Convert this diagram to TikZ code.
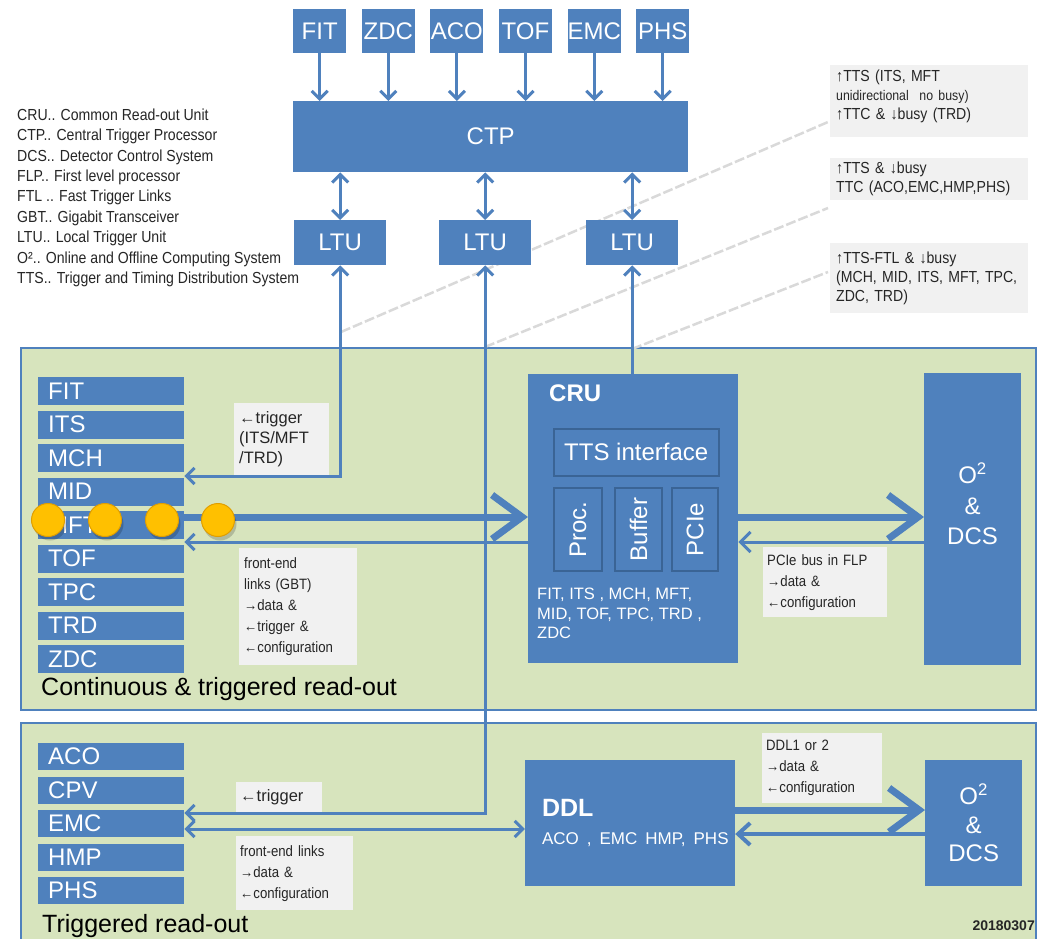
\documentclass[tikz,border=0pt]{standalone}
\usepackage{fontspec}
\setmainfont{Liberation Sans}
\newfontfamily\narrowf[FakeStretch=0.88]{Liberation Sans}
\usetikzlibrary{arrows.meta,calc}
\definecolor{bblue}{HTML}{4F81BD}
\definecolor{dblue}{HTML}{3A6495}
\definecolor{gfill}{HTML}{D7E4BD}
\definecolor{lgray}{HTML}{F1F1F1}
\definecolor{ybal}{HTML}{FFC000}
\definecolor{yrim}{HTML}{E09E00}
\definecolor{txt}{HTML}{262626}
\tikzset{
  blk/.style={fill=bblue, text=white, inner sep=0pt, anchor=north west,
    font=\fontsize{24}{28}\selectfont},
  det/.style={blk, minimum width=146pt, text width=126pt, inner xsep=10pt,
    inner ysep=0pt, align=left},
  inbox/.style={fill=bblue, draw=dblue, line width=1.5pt, text=white, inner sep=0pt,
    font=\fontsize{24}{28}\selectfont},
  callout/.style={fill=lgray, text=txt, anchor=north west, inner ysep=0pt, align=left},
  conn/.style={draw=bblue, line width=3pt},
  thk/.style={draw=bblue, line width=7pt, -{Straight Barb[length=30pt,width=44pt]}},
  faint/.style={draw=gray!30, line width=2.5pt, dash pattern=on 10pt off 3pt},
  ball/.style={fill=ybal, draw=yrim, line width=1pt},
}
\begin{document}
\begin{tikzpicture}[x=1pt,y=-1pt]
\useasboundingbox (0,0) rectangle (1041,939);
\fill[white] (0,0) rectangle (1041,939);

% legend
\node[anchor=north west, inner sep=0pt, align=left, text=txt,
  font=\narrowf\fontsize{16}{20.4}\selectfont] (legend) at (17,108.5)
  {CRU.. Common Read-out Unit\\
   CTP.. Central Trigger Processor\\
   DCS.. Detector Control System\\
   FLP.. First level processor\\
   FTL .. Fast Trigger Links\\
   GBT.. Gigabit Transceiver\\
   LTU.. Local Trigger Unit\\
   O².. Online and Offline Computing System\\
   TTS.. Trigger and Timing Distribution System};

% green regions
\draw[fill=gfill, draw=bblue, line width=1.2pt] (21,348) rectangle (1036,710);
\draw[fill=gfill, draw=bblue, line width=1.2pt] (21,723) rectangle (1036,950);

% faint diagonal lines
\coordinate (fa0) at (341,332); \coordinate (fa1) at (828,122);
\coordinate (fb0) at (485,347); \coordinate (fb1) at (828,208);
\coordinate (fc0) at (632,349); \coordinate (fc1) at (828,272);
\draw[faint] (fa0) -- (fa1);
\draw[faint] (fb0) -- (fb1);
\draw[faint] (fc0) -- (fc1);

% callouts
\node[callout, minimum width=198pt, minimum height=72pt, text width=186pt, inner xsep=6pt,
  font=\narrowf\fontsize{16}{19}\selectfont] (c1) at (830,65)
  {↑TTS (ITS, MFT\\{\fontsize{14}{18}\selectfont unidirectional\ \ no busy)}\\↑TTC \& ↓busy (TRD)\\[-6pt]\mbox{}};
\node[callout, minimum width=198pt, minimum height=42pt, text width=186pt, inner xsep=6pt,
  font=\narrowf\fontsize{16}{19}\selectfont] (c2) at (830,158)
  {↑TTS \& ↓busy\\TTC (ACO,EMC,HMP,PHS)};
\node[callout, minimum width=198pt, minimum height=70pt, text width=186pt, inner xsep=6pt,
  font=\narrowf\fontsize{16}{19}\selectfont] (c3) at (830,243)
  {↑TTS-FTL \& ↓busy\\(MCH, MID, ITS, MFT, TPC,\\ZDC, TRD)};

% CTP and LTUs
\node[blk, minimum width=395pt, minimum height=71pt] (CTP) at (293,101) {CTP};
\foreach \n [count=\i from 0] in {FIT,ZDC,ACO,TOF,EMC,PHS}{
  \node[blk, minimum width=53pt, minimum height=44pt] (t\n) at (293+\i*68.6,9) {\n};
  \draw[conn, -{Straight Barb[length=8pt,width=16pt]}] (t\n.south) -- (t\n.south |- CTP.north);
}
\node[blk, minimum width=92pt, minimum height=45pt] (ltu1) at (294,220) {LTU};
\node[blk, minimum width=92pt, minimum height=45pt] (ltu2) at (439,220) {LTU};
\node[blk, minimum width=92pt, minimum height=45pt] (ltu3) at (586,220) {LTU};
\foreach \l in {ltu1,ltu2,ltu3}{
  \draw[conn, {Straight Barb[length=8pt,width=16pt]}-{Straight Barb[length=8pt,width=16pt]}]
    (\l.north |- CTP.south) -- (\l.north);
}

% detector boxes (continuous)
\foreach \n [count=\i from 0] in {FIT,ITS,MCH,MID,MFT,TOF,TPC,TRD,ZDC}{
  \node[det, minimum height=28pt] (d\n) at (38,377+\i*33.5) {\n};
}
\node[anchor=west, inner sep=0pt, text=black, font=\fontsize{25}{30}\selectfont] (lblCont)
  at (41,689) {Continuous \& triggered read-out};

% CRU
\node[blk, minimum width=210pt, minimum height=289pt] (CRU) at (528,374) {};
\node[anchor=west, inner sep=0pt, text=white, font=\bfseries\fontsize{24}{28}\selectfont]
  (cruLbl) at (549,393) {CRU};
\node[inbox, anchor=north west, minimum width=165pt, minimum height=47pt] (tts) at (553,428) {TTS interface};
\node[inbox, rotate=90, minimum width=83pt, minimum height=48pt] (proc) at (578,529.5) {Proc.};
\node[inbox, rotate=90, minimum width=83pt, minimum height=47pt] (buf) at (638.5,529.5) {Buffer};
\node[inbox, rotate=90, minimum width=83pt, minimum height=46pt] (pcie) at (695,529.5) {PCIe};
\node[anchor=north west, inner sep=0pt, align=left, text=white,
  font=\fontsize{16.5}{19.5}\selectfont] (cruList) at (537,588)
  {FIT, ITS , MCH, MFT,\\MID, TOF, TPC, TRD ,\\ZDC};

% O2 upper
\node[blk, anchor=north west, minimum width=97pt, minimum height=292pt] (O2a) at (924,373) {};
\node[align=center, inner sep=0pt, text=white, font=\fontsize{24}{30.5}\selectfont]
  (O2aTxt) at (972.5,504) {O\textsuperscript{2}\\\&\\DCS};

% lower section
\foreach \n [count=\i from 0] in {ACO,CPV,EMC,HMP,PHS}{
  \node[det, minimum height=27pt] (d\n) at (38,743+\i*33.5) {\n};
}
\node[anchor=west, inner sep=0pt, text=black, font=\fontsize{25}{30}\selectfont] (lblTrig)
  at (42,926) {Triggered read-out};
\node[blk, minimum width=210pt, minimum height=126pt, text width=176pt, inner xsep=17pt,
  align=left, anchor=center] (DDL) at (630,823)
  {{\bfseries\fontsize{25}{29}\selectfont DDL}\\{\fontsize{17}{22}\selectfont\mbox{ACO , EMC HMP, PHS}}};
\node[blk, anchor=north west, minimum width=97pt, minimum height=126pt, align=center,
  font=\fontsize{24}{28.5}\selectfont] (O2b) at (925,760) {O\textsuperscript{2}\\\&\\DCS};
\node[anchor=east, inner sep=0pt, text=txt, font=\bfseries\fontsize{14}{16}\selectfont]
  (date) at (1035,926) {20180307};

% label boxes
\node[callout, minimum width=95pt, minimum height=72pt, text width=85pt, inner xsep=5pt,
  font=\fontsize{16.5}{20}\selectfont] (lbTrig1) at (234,403)
  {←trigger\\(ITS/MFT\\/TRD)};
\node[callout, minimum width=118pt, minimum height=117pt, text width=108pt, inner xsep=5pt,
  font=\narrowf\fontsize{15}{21}\selectfont] (lbFE1) at (239,548)
  {front-end\\links (GBT)\\→data \&\\←trigger \&\\←configuration};
\node[callout, minimum width=124pt, minimum height=70pt, text width=116pt, inner xsep=4pt,
  font=\narrowf\fontsize{15}{21}\selectfont] (lbPCIe) at (763,547)
  {PCIe bus in FLP\\→data \&\\←configuration};
\node[callout, minimum width=86pt, minimum height=30pt, text width=78pt, inner xsep=4pt,
  font=\fontsize{16.5}{20}\selectfont] (lbTrig2) at (236,782) {←trigger};
\node[callout, minimum width=117pt, minimum height=74pt, text width=109pt, inner xsep=4pt,
  font=\narrowf\fontsize{15}{21}\selectfont] (lbFE2) at (236,836)
  {front-end links\\→data \&\\←configuration};
\node[callout, minimum width=120pt, minimum height=70pt, text width=112pt, inner xsep=4pt,
  font=\narrowf\fontsize{15}{21}\selectfont] (lbDDL) at (762,733)
  {DDL1 or 2\\→data \&\\←configuration};

% connectors
\coordinate (yTrig1) at (0,476);
\coordinate (yThick) at (0,517);
\coordinate (yRet) at (0,542);
\coordinate (yTrig2) at (0,813);
\coordinate (yFE2) at (0,829);
\coordinate (yThick2) at (0,810);
\coordinate (yRet2) at (0,834);

\draw[conn, {Straight Barb[length=8pt,width=16pt]}-{Straight Barb[length=8pt,width=16pt]}]
  (ltu1.south) |- (dMCH.east |- yTrig1);
\draw[conn, {Straight Barb[length=8pt,width=16pt]}-{Straight Barb[length=8pt,width=16pt]}]
  (ltu2.south) |- (dEMC.east |- yTrig2);
\draw[conn, {Straight Barb[length=8pt,width=16pt]}-] (ltu3.south) -- (ltu3.south |- CRU.north);

\draw[thk] (dMFT.east |- yThick) -- (CRU.west |- yThick);
\draw[conn, -{Straight Barb[length=8pt,width=16pt]}] (CRU.west |- yRet) -- (dMFT.east |- yRet);
\draw[thk] (CRU.east |- yThick) -- (O2a.west |- yThick);
\draw[conn, -{Straight Barb[length=10pt,width=20pt]}] (O2a.west |- yRet) -- (CRU.east |- yRet);

\draw[conn, {Straight Barb[length=8pt,width=16pt]}-{Straight Barb[length=8pt,width=16pt]}]
  (dEMC.east |- yFE2) -- (DDL.west |- yFE2);
\draw[thk] (DDL.east |- yThick2) -- (O2b.west |- yThick2);
\draw[conn, line width=4pt, -{Straight Barb[length=12pt,width=22pt]}] (O2b.west |- yRet2) -- (DDL.east |- yRet2);

% yellow balls
\foreach \x [count=\i] in {48,105,162,218}{
  \fill[black, opacity=0.18] (\x+2,524) circle (16.5);
  \node[ball, circle, minimum size=33pt, inner sep=0pt] (ball\i) at (\x,520) {};
}
\end{tikzpicture}
\end{document}
